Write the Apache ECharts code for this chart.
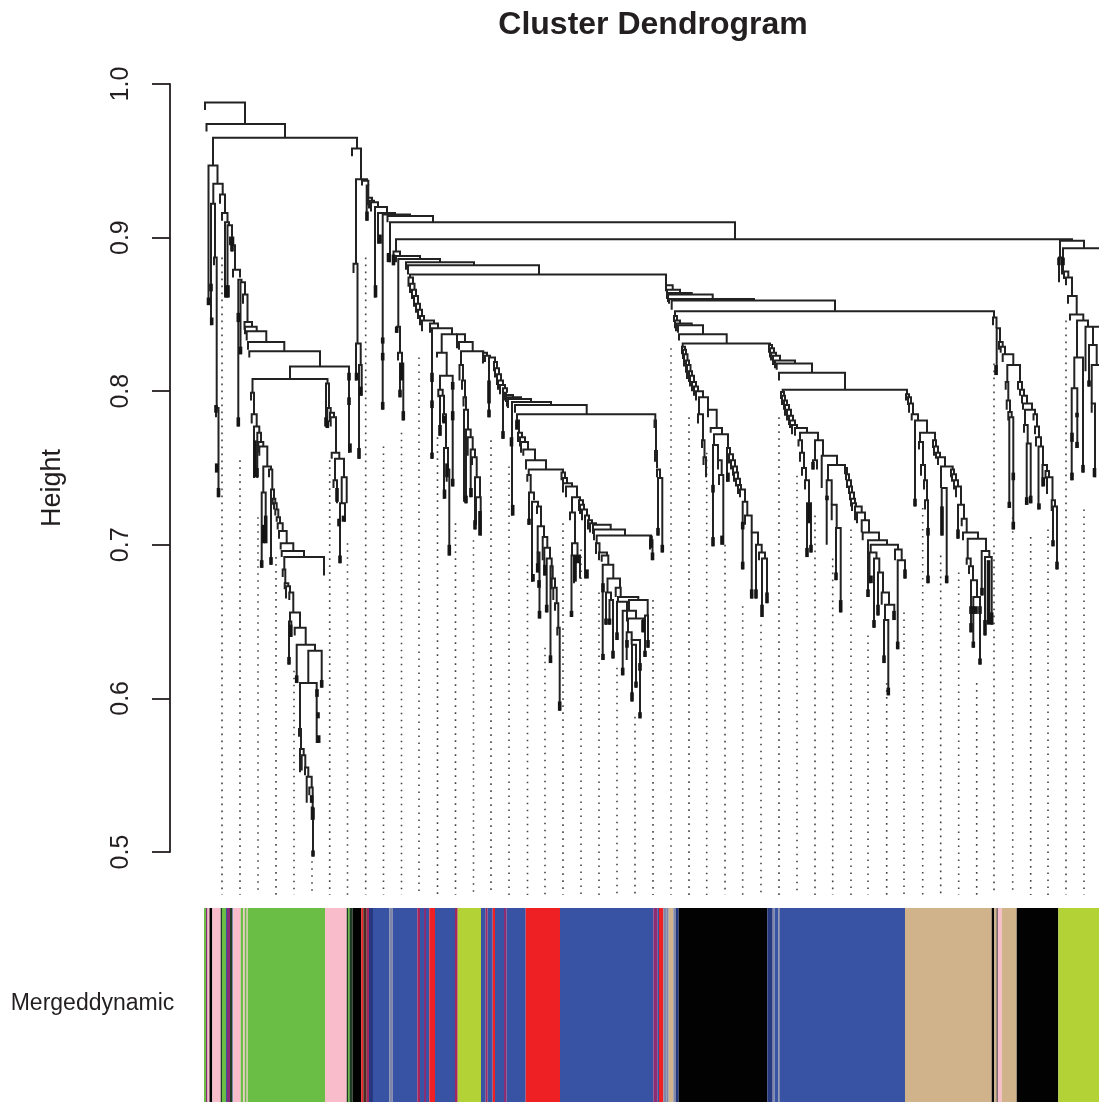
<!DOCTYPE html>
<html><head><meta charset="utf-8">
<style>html,body{margin:0;padding:0;background:#fff}#c{width:1099px;height:1102px}</style>
<script src="https://cdn.jsdelivr.net/npm/echarts@6/dist/echarts.min.js"></script>
</head><body><div id="c"></div>
<script>
// merge = [leftLeaf, rightLeaf, height, leftEndHeight, rightEndHeight]
const rootMerges=[[205,245,.988,.983,.974],[206.5,285,.974,.969,.965],[213,357,.965,.947,.958],[352,361,.958,.953,.938]];
const wingA=[[208.5,217.5,.947,.857,.935],[213.3,222.7,.935,.922,.928],[211,215,.922,.843,.887],[214,216.7,.887,.882,.789],[216,218.5,.789,.783,.731],[220,225,.928,.922,.916],[222,227.5,.916,.911,.910],[225,229,.910,.861,.908],[227.5,232,.908,.861,.900],[230,233.3,.900,.895,.895],[232,235,.895,.891,.879],[233,240,.879,.874,.874],[238.3,241.5,.8725,.777,.871],[240.5,245,.871,.824,.863],[243,247.5,.863,.857,.845],[244.5,252,.845,.840,.842],[245,256.7,.842,.837,.839],[246.7,266.3,.839,.833,.832],[248,284.3,.832,.827,.826],[249.3,320,.826,.822,.816],[290,349,.816,.808,.760],[252.5,327.5,.808,.799,.805]];
const wingB=[[251,254,.799,.794,.785],[251.7,256.7,.785,.779,.777],[254,259.3,.777,.7435,.773],[257.3,261,.773,.7435,.767],[258.3,263.3,.767,.760,.764],[259.3,267.3,.764,.758,.751],[263.3,271,.751,.734,.749],[261.7,265.7,.734,.685,.702],[269,272.3,.749,.744,.736],[271,274,.736,.687,.730],[272.7,275.3,.730,.726,.727],[274,276.7,.727,.723,.723],[275.3,278.3,.723,.719,.718],[276.7,280,.718,.715,.714],[277.7,282.7,.714,.710,.709],[279,286.7,.709,.704,.701],[280.7,293.3,.701,.697,.696],[281.7,304,.696,.692,.692],[284.3,324,.692,.684,.680],[282.7,285.3,.684,.679,.675],[284.7,288.3,.675,.671,.673],[286,290,.673,.665,.669],[289.3,293.3,.669,.664,.656],[290,300,.656,.650,.646],[289,291.3,.650,.622,.640],[294.7,305.7,.646,.641,.635],[296.7,315,.635,.610,.631],[308.3,321.7,.631,.610,.607],[300,316.7,.610,.580,.571],[299,301,.580,.575,.567],[300,303.7,.567,.552,.563],[301.7,305.3,.563,.553,.555],[305,308.3,.555,.550,.549],[306.7,311.7,.549,.532,.542],[309.3,312.7,.542,.537,.529],[311.7,313,.529,.521,.497]];
const wingC=[[326,329,.805,.777,.789],[327.3,330.7,.789,.776,.786],[330,334,.786,.780,.783],[330.7,336,.783,.777,.760],[331.7,339.3,.760,.756,.756],[335,344,.756,.742,.744],[333.5,337,.742,.737,.727],[341.7,346.7,.744,.727,.727],[340,345,.727,.688,.715],[356,367,.938,.883,.937],[353.5,357.5,.883,.877,.831],[356,360.7,.831,.807,.817],[359,361.7,.817,.756,.797],[362,368.3,.937,.934,.934],[366.7,368.3,.934,.911,.926],[368,372,.926,.921,.924],[369,374,.924,.919,.923],[371,378,.923,.917,.920],[375,387,.920,.861,.916],[378,395,.916,.896,.915],[382.7,410,.915,.788,.914],[387.5,433,.914,.910,.910],[390,735,.910,.884,.899],[396,1072,.899,.891,.898],[393.5,400,.891,.882,.888],[396,420,.888,.884,.886],[398.3,440,.886,.842,.884],[406,474,.884,.879,.882],[408,539,.882,.876,.876],[396.7,400,.842,.838,.825],[398,402,.825,.820,.818],[400,403.3,.818,.796,.781]];
const blockA=[[410,666,.876,.874,.869],[408.5,413,.874,.868,.870],[410,414.5,.870,.864,.866],[412,416,.866,.860,.862],[414,418,.862,.855,.857],[416,420,.857,.851,.853],[418,422,.853,.847,.849],[420,424,.849,.843,.846],[422,434,.846,.839,.844],[430,438,.844,.838,.841],[432,452,.841,.756,.837],[441.7,457,.837,.825,.837],[457,465,.837,.828,.832],[459,472.7,.832,.827,.826],[461,483.3,.826,.817,.825],[437,446.7,.825,.822,.810],[440,452.7,.810,.801,.738],[438.3,442.7,.801,.796,.797],[440,444,.797,.771,.785],[443,446,.785,.780,.763],[444,448,.763,.730,.749],[446.7,449.3,.749,.741,.693],[459.5,463,.817,.807,.807],[462,465,.807,.801,.796],[463.5,466,.796,.790,.788],[464,468,.788,.728,.775],[466,470.7,.775,.727,.770],[467.7,472.7,.770,.758,.762],[470.7,475,.762,.731,.757],[472,476.7,.757,.752,.744],[475,480,.744,.710,.731],[476,480.7,.731,.713,.706]];
const blockB=[[483,487,.825,.818,.823],[485,490,.823,.819,.822],[489,495,.822,.783,.819],[494,497,.819,.813,.815],[495,499,.815,.809,.811],[497,501,.811,.804,.807],[498,503,.807,.801,.804],[500,505,.804,.798,.802],[503,507,.802,.769,.799],[504,506,.799,.794,.7975],[506,513,.7975,.793,.796],[507,521,.796,.790,.795],[508,531,.795,.789,.793],[512,551,.793,.719,.791],[515,586.7,.791,.786,.785],[517,655.3,.785,.781,.781]];
const blockC=[[516.5,519,.781,.775,.773],[518,522,.773,.767,.770],[520,525,.770,.764,.767],[521,528,.767,.760,.762],[523.3,535,.762,.758,.755],[526,546,.755,.749,.749],[528.7,563,.749,.7455,.747],[527.3,530.7,.7455,.741,.734],[529,534,.734,.713,.729],[532,538,.728,.676,.725],[537,541,.725,.720,.712],[537.7,544,.712,.695,.705],[537.5,539.5,.695,.682,.652],[542.7,547.3,.705,.690,.698],[544.3,550,.698,.680,.691],[546.7,551.7,.691,.656,.686],[550.5,552.7,.686,.623,.678],[551.7,555,.678,.671,.672],[553.3,556.7,.672,.664,.662],[555,558.3,.662,.657,.646],[557.3,559.7,.646,.641,.592]];
const blockD=[[561.5,565,.747,.742,.7435],[563,567,.7435,.739,.740],[563,572,.740,.734,.738],[566,577,.738,.731,.731],[572,580,.731,.721,.729],[570,575,.721,.716,.701],[572,577.5,.701,.693,.693],[571.5,574,.693,.653,.675],[576,580,.693,.688,.678],[579,583,.729,.722,.726],[580,584,.726,.720,.723],[582,587,.723,.716,.719],[585,589,.719,.678,.716],[588,592,.716,.710,.714],[590,596,.714,.708,.713],[593,610.7,.713,.707,.710],[594,625,.710,.703,.706],[596.7,651,.706,.701,.703],[650,652.5,.703,.697,.690],[596,599.5,.701,.694,.695],[599,607,.695,.690,.693],[601.7,608.3,.693,.689,.687],[602.7,613.3,.687,.625,.678],[607.5,620,.678,.669,.672],[606,611,.669,.648,.664],[609.5,613,.664,.648,.626],[615.7,620.7,.672,.666,.666],[618,638.3,.666,.663,.664],[617,627,.663,.638,.650],[629,647.7,.664,.657,.654],[622.7,636,.657,.615,.652],[628,643,.652,.643,.643],[645,648,.654,.627,.633],[626.7,631.7,.643,.625,.638],[631.7,640,.638,.635,.587],[632,636,.635,.598,.607],[654.5,656,.781,.776,.761],[655,657,.761,.754,.750],[657,660,.749,.744,.744],[658,662.3,.7435,.706,.695]];
const blockE=[[666,672.7,.869,.865,.866],[667,680,.866,.862,.864],[667,691.7,.864,.860,.863],[668,712.7,.863,.858,.860],[669,754,.860,.857,.859],[671.7,835,.859,.853,.852],[675,994,.852,.849,.848],[674,677,.849,.845,.846],[675,680,.846,.841,.844],[676,691.7,.844,.839,.843],[678,703,.843,.838,.837],[679,726.7,.837,.833,.831],[682.7,770,.831,.829,.830],[682,685,.829,.824,.827],[683,686,.827,.821,.824],[684,687.5,.824,.816,.820],[686,689,.820,.812,.817],[687,690.5,.817,.808,.813],[689,692,.813,.806,.810],[690,694,.810,.803,.806],[692,696,.806,.800,.803],[694,698,.803,.797,.800],[696,703,.800,.794,.796],[699,708,.796,.785,.788],[698,703,.785,.779,.768],[702,704.5,.768,.763,.757],[703.5,706,.757,.752,.744],[708,716.7,.788,.783,.776],[710.7,722,.776,.773,.772],[714,728,.772,.765,.763],[713,718,.765,.699,.755],[718,721.7,.755,.749,.7455],[719,723.3,.7455,.739,.700]];
const blockF=[[727,730,.763,.741,.759],[729,733,.759,.753,.755],[731,735,.755,.749,.751],[733,737,.751,.745,.747],[734,738,.747,.741,.743],[736,740,.743,.738,.739],[738,741,.739,.733,.736],[740,745,.736,.731,.728],[742.7,747.3,.728,.684,.719],[745,751.7,.719,.713,.708],[751.7,758,.708,.665,.700],[756,761.7,.700,.665,.695],[759,765,.695,.690,.691],[762,767,.691,.653,.662],[769,772,.830,.825,.828],[770,774,.828,.822,.825],[771,776,.825,.820,.823],[773,780,.823,.817,.820],[775,795,.820,.815,.818],[776.7,812,.818,.814,.812],[779,845,.812,.807,.801],[782.7,907,.801,.7995,.798]];
const blockG=[[781,784,.7995,.795,.797],[782,785,.797,.791,.794],[784,787,.794,.788,.791],[785,789,.791,.784,.788],[787,791,.788,.781,.784],[789,793,.784,.778,.781],[790,795,.781,.776,.778],[792,797,.778,.772,.776],[795,807,.776,.771,.773],[800,818,.773,.768,.768],[798.5,802,.768,.764,.760],[800,804,.760,.754,.750],[802,806,.750,.745,.742],[805,809,.742,.736,.727],[807,811,.727,.692,.695],[815,823,.768,.755,.758],[813,817,.755,.749,.749],[821.7,837,.758,.737,.752],[828,845,.752,.742,.750],[826.7,831.7,.742,.700,.726],[831.7,836.7,.726,.716,.711],[836,840.7,.711,.677,.656]];
const blockH=[[845,847,.750,.746,.746],[846,849,.746,.742,.742],[847,851,.742,.737,.738],[849,852,.738,.733,.734],[850,854,.734,.729,.730],[851,855,.730,.725,.727],[852,856,.727,.722,.725],[855,861.7,.725,.716,.721],[857,865,.721,.714,.716],[861.7,869,.716,.708,.708],[862.7,879,.708,.703,.703],[868,887,.703,.666,.700],[870.7,898,.700,.695,.697],[869.5,876.5,.695,.675,.691],[874,879.3,.691,.646,.682],[878,883,.682,.654,.669],[881.7,889,.669,.661,.661],[885,894.3,.661,.651,.651],[884,888.3,.651,.623,.602],[895,901.7,.697,.690,.690],[897.7,905,.690,.632,.678]];
const blockI=[[906,909,.798,.794,.796],[908,911,.796,.791,.792],[909,913,.792,.786,.785],[911.7,918,.785,.781,.781],[915,927,.781,.725,.773],[920,935,.773,.767,.768],[919,923,.767,.762,.752],[921,925,.752,.745,.742],[924,927,.742,.736,.729],[925,928,.729,.723,.675],[933,936,.768,.763,.764],[934,938,.764,.758,.760],[936,940,.760,.756,.757],[938,945,.757,.752,.751],[941,952.7,.751,.737,.749],[941.7,946.7,.737,.706,.675],[951,954,.749,.744,.746],[952,956,.746,.741,.742],[954,958,.742,.736,.738],[956,961,.738,.731,.726],[958,964,.726,.704,.717],[961.7,966.7,.717,.712,.708],[963,978,.708,.703,.704],[967.7,986,.704,.691,.696],[966.7,970.7,.691,.687,.686],[969,973,.686,.681,.677],[971,977,.677,.643,.666],[973.3,980,.666,.633,.622],[981.7,989.3,.696,.667,.692],[985,991.7,.692,.641,.648]];
const blockJ=[[993,996.5,.848,.843,.841],[996.7,1000,.841,.8105,.832],[999,1002.7,.832,.827,.829],[1000.7,1005,.829,.825,.824],[1002.7,1013.3,.824,.819,.817],[1007.3,1020,.817,.806,.806],[1005.7,1008.3,.806,.801,.794],[1006.7,1010,.794,.788,.7865],[1008.3,1011.7,.7865,.781,.783],[1009.3,1013.3,.783,.724,.710],[1018,1022,.806,.801,.801],[1020,1024,.801,.797,.797],[1022,1027,.797,.792,.792],[1023,1032,.792,.788,.788],[1025,1035,.788,.778,.785],[1024,1027.7,.778,.773,.766],[1026.7,1030.7,.766,.726,.727],[1033.5,1037,.785,.781,.777],[1035,1039,.777,.772,.770],[1036,1041,.770,.764,.764],[1038.5,1043,.764,.723,.752],[1042.5,1047,.752,.738,.748],[1045.5,1049,.748,.743,.744],[1047,1052.5,.744,.733,.729],[1051.7,1055,.729,.722,.725],[1053,1057,.725,.699,.684]];
const blockK=[[1060,1084,.898,.887,.893],[1059,1062,.887,.871,.876],[1063,1105,.893,.878,.880],[1064,1068.3,.878,.873,.874],[1066,1072,.874,.869,.862],[1068,1076.7,.862,.857,.850],[1070,1083.3,.850,.846,.846],[1077,1088,.846,.822,.842],[1085.5,1105,.842,.813,.830],[1093,1093,.842,.830,.830],[1089,1096.7,.830,.803,.817],[1091.7,1105,.817,.792,.795],[1091.7,1095,.792,.786,.744],[1074.3,1083,.822,.802,.747],[1071.7,1077.3,.802,.742,.763]];
// dense leaf ends = [leaf, topHeight, bottomHeight]
const leafEndsLeft=[[208.5,.861,.856],[211,.870,.865],[211.7,.848,.843],[216,.791,.786],[216.7,.753,.747],[218.5,.737,.731],[226.5,.869,.861],[228,.869,.861],[232,.900,.891],[238.3,.851,.845],[238.3,.783,.777],[240.5,.829,.824],[255,.768,.744],[257,.750,.744],[261.7,.690,.685],[263.5,.713,.701],[265.7,.719,.701],[271,.692,.687],[289,.627,.622],[290.7,.648,.640],[296.7,.615,.610],[317,.606,.601],[318,.591,.587],[318.7,.576,.571],[321.7,.612,.607],[313,.529,.521],[313,.501,.497],[311.7,.537,.532],[349,.812,.807],[349,.796,.791],[350,.766,.760],[359,.763,.756],[356.5,.812,.807],[360.7,.803,.797],[326,.783,.777],[327.3,.781,.776],[337,.737,.728],[340,.693,.688],[339,.717,.712],[343.5,.719,.715],[367,.917,.911],[375.5,.869,.861],[380,.902,.896],[382.7,.835,.831],[382.7,.825,.820],[382.7,.793,.788],[388.5,.890,.884],[396.7,.842,.838],[400,.801,.796],[401.5,.818,.807],[403.3,.787,.781],[393.5,.889,.882]];
const leafEndsMid=[[432,.812,.806],[432,.794,.789],[432,.760,.756],[452.7,.806,.801],[452.7,.787,.781],[452.7,.743,.738],[440,.778,.771],[444,.784,.779],[444.5,.736,.730],[447,.753,.744],[449.3,.700,.693],[466,.732,.727],[471,.737,.731],[475,.716,.710],[480,.722,.706],[489,.807,.792],[489,.788,.783],[503,.774,.769],[511.5,.770,.764],[512.7,.726,.719],[517,.781,.775],[529,.717,.713],[533,.681,.676],[537.7,.688,.682],[539,.677,.672],[539.5,.657,.652],[545,.687,.680],[546.7,.661,.656],[550.5,.628,.623],[559.7,.598,.592],[571.5,.657,.653],[575,.693,.676],[578,.693,.688],[587,.684,.678],[651,.706,.698],[652.5,.695,.690],[603,.675,.669],[603,.629,.625],[606,.652,.648],[609.5,.652,.648],[613,.631,.626],[617,.643,.638],[622.7,.620,.615],[627,.638,.633],[632,.604,.598],[636,.611,.607],[640,.623,.618],[640,.591,.587],[643,.651,.643],[645,.631,.627],[648,.638,.633],[658,.711,.706],[662.3,.700,.695]];
const leafEndsRight=[[713,.705,.699],[713,.739,.734],[722,.706,.700],[728,.747,.741],[742.7,.715,.710],[742.7,.689,.684],[751.7,.671,.665],[756,.671,.665],[762,.661,.653],[767,.669,.662],[807,.698,.692],[811,.700,.695],[809,.727,.714],[813,.754,.749],[827,.732,.729],[836,.682,.677],[840.7,.664,.656],[868,.671,.666],[871,.680,.675],[874,.651,.646],[878,.661,.654],[884,.628,.623],[888.3,.607,.602],[894,.657,.651],[897.7,.637,.632],[905,.684,.678],[915,.730,.725],[928,.680,.675],[928,.711,.706],[942,.725,.706],[946.7,.680,.675],[958,.710,.704],[971,.649,.643],[971,.660,.655],[973.3,.660,.655],[976,.660,.655],[980,.660,.655],[973.3,.637,.633],[980,.626,.622],[982,.672,.667],[985,.651,.641],[991.7,.656,.648],[988.5,.690,.648],[996,.817,.8105],[1009.3,.728,.724],[1013.3,.715,.710],[1013.3,.747,.742],[1026.7,.731,.726],[1030.7,.732,.727],[1039,.727,.723],[1043.3,.744,.738],[1053,.703,.699],[1057,.689,.684],[1059,.887,.882],[1063,.887,.882],[1072,.747,.742],[1072,.773,.767],[1077,.786,.783],[1077,.767,.763],[1083,.752,.747],[1089,.807,.803],[1094.5,.750,.744]];
// dotted guide lines
const guideLeaves=[222,240,258,276,294,312,329.7,347.5,365.7,383.5,401.5,419,437.5,455.5,473.5,491,509,527.5,545,563,581,599,617,635,653,671,689,706.7,725,742.7,761,779,797,815,832.7,851,868,886.7,904,922.7,940.7,958.7,976.7,994,1012.7,1030.7,1048,1066,1084];
const guideTops=[.887,.755,.718,.692,.618,.494,.755,.701,.887,.764,.773,.822,.770,.714,.703,.768,.751,.687,.633,.714,.697,.669,.620,.588,.664,.828,.783,.760,.700,.660,.648,.783,.745,.719,.691,.710,.641,.610,.656,.724,.693,.682,.610,.818,.718,.705,.710,.846,.723];
const guideFloor=.472;
// module colour band
const moduleColors={G:'#6abd45',B:'#3953a4',P:'#f8bccb',K:'#020203',R:'#ee2024',T:'#d1b38b',Y:'#b2d235',C:'#a3275c',V:'#8b2d74',A:'#7f86a8',D:'#1f3d22',M:'#4a2c22',N:'#26387f'};
const moduleEdges=[204,206,207.5,209.5,212.3,220.7,222,224,226,227,230,232,233.3,240.7,243.3,244.7,246.7,247.7,325,346.7,348,349.5,352.7,361.3,363.3,366.7,369,373,389.3,392.7,417.3,420,424,426,429.3,435,455,457.7,481,485.7,487.7,492.7,495,504,506.7,525.7,560,653.3,657.7,659,663.3,666.7,668.7,673.3,676,678.7,767.3,772.7,774.7,778.3,780,905,991.7,994.3,996.7,997.7,1000,1001.7,1016.7,1058.3,1099];
const moduleSeq=['G','V','P','K','P','D','G','G','B','V','D','A','P','G','P','G','P','G','P','D','G','D','K','R','M','C','N','B','A','B','C','B','V','B','R','B','C','Y','B','C','B','R','B','V','B','R','B','V','B','R','A','A','T','A','N','K','N','A','B','A','B','T','K','T','K','P','P','T','K','Y'];
const axisTicks=[.5,.6,.7,.8,.9,1];
const INK='#231f20';

const merges=[].concat(rootMerges,wingA,wingB,wingC,blockA,blockB,blockC,blockD,blockE,blockF,blockG,blockH,blockI,blockJ,blockK);
const leafEnds=[].concat(leafEndsLeft,leafEndsMid,leafEndsRight);
const guides=guideLeaves.map((x,i)=>[x,guideTops[i],guideFloor]);
const modules=moduleSeq.map((k,i)=>[moduleEdges[i],moduleEdges[i+1],0,1,k]);

const chart=echarts.init(document.getElementById('c'),null,{renderer:'canvas'});
chart.setOption({
 animation:false,backgroundColor:'#fff',
 title:{text:'Cluster Dendrogram',left:648,top:4,textAlign:'center',textStyle:{fontFamily:'Liberation Sans',fontWeight:'bold',fontSize:32,color:INK}},
 grid:[{left:0,top:84,width:1099,height:768},{left:0,top:908,width:1099,height:194}],
 xAxis:[{gridIndex:0,type:'value',min:0,max:1099,show:false},{gridIndex:1,type:'value',min:0,max:1099,show:false}],
 yAxis:[{gridIndex:0,type:'value',min:.5,max:1,interval:.1,position:'left',offset:-170,splitLine:{show:false},
   axisLine:{show:true,lineStyle:{color:INK,width:1.8}},axisTick:{show:true,length:18,lineStyle:{color:INK,width:1.8}},
   axisLabel:{rotate:90,margin:36,fontFamily:'Liberation Sans',fontSize:25,color:INK,showMinLabel:true,showMaxLabel:true,formatter:v=>v.toFixed(1)}},
  {gridIndex:1,type:'value',min:0,max:1,show:false}],
 series:[
  {type:'custom',xAxisIndex:0,yAxisIndex:0,silent:true,data:guides,encode:{x:0,y:[1,2]},renderItem:(p,api)=>{
    const a=api.coord([api.value(0),api.value(1)]),b=api.coord([api.value(0),api.value(2)]);
    return {type:'line',shape:{x1:a[0],y1:a[1],x2:b[0],y2:b[1]},style:{stroke:'#444',lineWidth:1.6,lineDash:[1.6,5.4]}};}},
  {type:'custom',xAxisIndex:0,yAxisIndex:0,silent:true,data:merges,encode:{x:[0,1],y:[2,3,4]},renderItem:(p,api)=>{
    const x1=api.value(0),x2=api.value(1),h=api.value(2);
    const pts=[api.coord([x1,api.value(3)]),api.coord([x1,h]),api.coord([x2,h]),api.coord([x2,api.value(4)])];
    return {type:'polyline',shape:{points:pts},style:{stroke:'#222',fill:null,lineWidth:2}};}},
  {type:'custom',xAxisIndex:0,yAxisIndex:0,silent:true,data:leafEnds,encode:{x:0,y:[1,2]},renderItem:(p,api)=>{
    const a=api.coord([api.value(0),api.value(1)]),b=api.coord([api.value(0),api.value(2)]);
    return {type:'line',shape:{x1:a[0],y1:a[1],x2:b[0],y2:b[1]},style:{stroke:'#151515',lineWidth:3.6}};}},
  {type:'custom',xAxisIndex:1,yAxisIndex:1,silent:true,data:modules,encode:{x:[0,1],y:[2,3]},renderItem:(p,api)=>{
    const a=api.coord([api.value(0),1]),b=api.coord([api.value(1),0]);
    return {type:'rect',shape:{x:a[0],y:a[1],width:b[0]-a[0],height:b[1]-a[1]},style:{fill:moduleColors[modules[p.dataIndex][4]]}};}}
 ],
 graphic:[
  {type:'text',x:53,y:488,rotation:Math.PI/2,style:{text:'Height',font:'27px "Liberation Sans"',fill:INK,textAlign:'center',textVerticalAlign:'middle'}},
  {type:'text',x:92.5,y:1004,style:{text:'Mergeddynamic',font:'23px "Liberation Sans"',fill:INK,textAlign:'center',textVerticalAlign:'middle'}}
 ]
});
</script></body></html>
